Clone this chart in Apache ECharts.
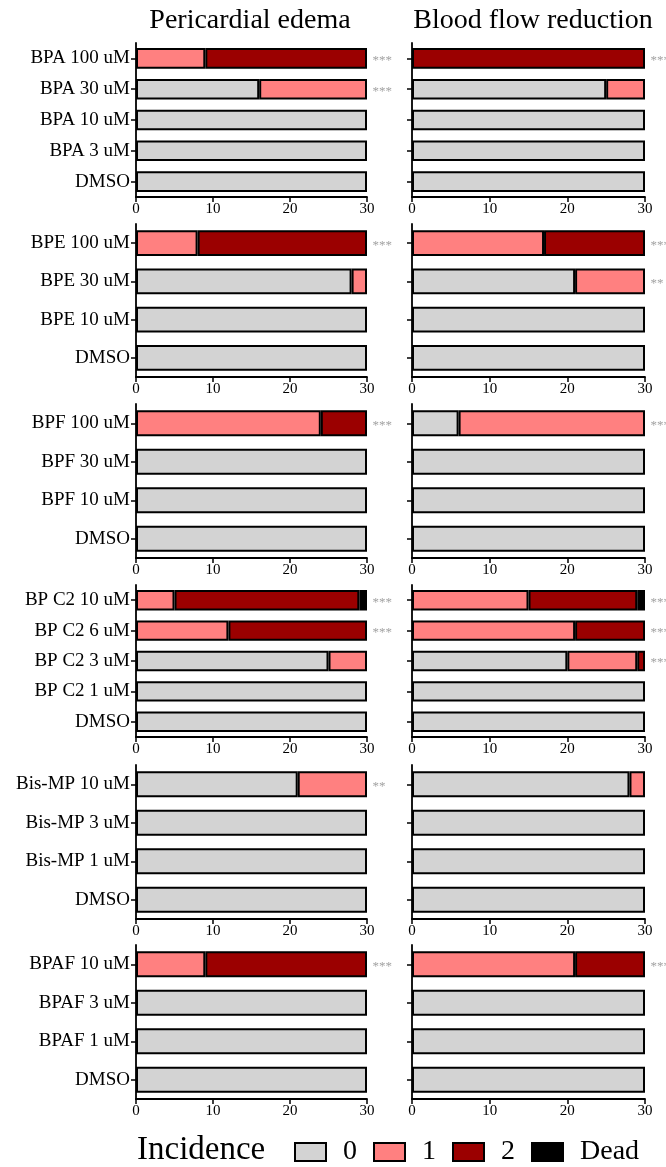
<!DOCTYPE html>
<html>
<head>
<meta charset="utf-8">
<script src="https://cdn.jsdelivr.net/npm/echarts@6/dist/echarts.min.js"></script>
<style>
html,body{margin:0;padding:0;background:#fff;}
#chart{width:666px;height:1167px;}
</style>
</head>
<body>
<div id="chart"></div>
<script>
// ---------- data ----------
const levelNames = ['0', '1', '2', 'Dead'];
const panelTitles = ['Pericardial edema', 'Blood flow reduction'];
const xTicks = [0, 10, 20, 30];

const catsBPA = ['BPA 100 uM', 'BPA 30 uM', 'BPA 10 uM', 'BPA 3 uM', 'DMSO'];
const catsBPE = ['BPE 100 uM', 'BPE 30 uM', 'BPE 10 uM', 'DMSO'];
const catsBPF = ['BPF 100 uM', 'BPF 30 uM', 'BPF 10 uM', 'DMSO'];
const catsBPC2 = ['BP C2 10 uM', 'BP C2 6 uM', 'BP C2 3 uM', 'BP C2 1 uM', 'DMSO'];
const catsBisMP = ['Bis-MP 10 uM', 'Bis-MP 3 uM', 'Bis-MP 1 uM', 'DMSO'];
const catsBPAF = ['BPAF 10 uM', 'BPAF 3 uM', 'BPAF 1 uM', 'DMSO'];

// rows: [count 0, count 1, count 2, dead]
const edemaBPA = [[0, 9, 21, 0], [16, 14, 0, 0], [30, 0, 0, 0], [30, 0, 0, 0], [30, 0, 0, 0]];
const flowBPA = [[0, 0, 30, 0], [25, 5, 0, 0], [30, 0, 0, 0], [30, 0, 0, 0], [30, 0, 0, 0]];
const edemaBPE = [[0, 8, 22, 0], [28, 2, 0, 0], [30, 0, 0, 0], [30, 0, 0, 0]];
const flowBPE = [[0, 17, 13, 0], [21, 9, 0, 0], [30, 0, 0, 0], [30, 0, 0, 0]];
const edemaBPF = [[0, 24, 6, 0], [30, 0, 0, 0], [30, 0, 0, 0], [30, 0, 0, 0]];
const flowBPF = [[6, 24, 0, 0], [30, 0, 0, 0], [30, 0, 0, 0], [30, 0, 0, 0]];
const edemaBPC2 = [[0, 5, 24, 1], [0, 12, 18, 0], [25, 5, 0, 0], [30, 0, 0, 0], [30, 0, 0, 0]];
const flowBPC2 = [[0, 15, 14, 1], [0, 21, 9, 0], [20, 9, 1, 0], [30, 0, 0, 0], [30, 0, 0, 0]];
const edemaBisMP = [[21, 9, 0, 0], [30, 0, 0, 0], [30, 0, 0, 0], [30, 0, 0, 0]];
const flowBisMP = [[28, 2, 0, 0], [30, 0, 0, 0], [30, 0, 0, 0], [30, 0, 0, 0]];
const edemaBPAF = [[0, 9, 21, 0], [30, 0, 0, 0], [30, 0, 0, 0], [30, 0, 0, 0]];
const flowBPAF = [[0, 21, 9, 0], [30, 0, 0, 0], [30, 0, 0, 0], [30, 0, 0, 0]];

const starsEdemaBPA = ['***', '***', '', '', ''];
const starsFlowBPA = ['***', '', '', '', ''];
const starsEdemaBPE = ['***', '', '', ''];
const starsFlowBPE = ['***', '**', '', ''];
const starsEdemaBPF = ['***', '', '', ''];
const starsFlowBPF = ['***', '', '', ''];
const starsEdemaBPC2 = ['***', '***', '', '', ''];
const starsFlowBPC2 = ['***', '***', '***', '', ''];
const starsEdemaBisMP = ['**', '', '', ''];
const starsFlowBisMP = ['', '', '', ''];
const starsEdemaBPAF = ['***', '', '', ''];
const starsFlowBPAF = ['***', '', '', ''];

// ---------- layout / style ----------
const FONT = '"Liberation Serif", "Times New Roman", serif';
const colors = ['#d3d3d3', '#ff8080', '#9b0000', '#000000'];
const colLeft = [136, 412];
const colWidth = [231, 233];
const rowTop = [43, 224, 404, 585, 765, 945];
const rowHeight = [154, 153, 154, 152, 154, 154];

const rowsDef = [
  [catsBPA, edemaBPA, flowBPA, starsEdemaBPA, starsFlowBPA],
  [catsBPE, edemaBPE, flowBPE, starsEdemaBPE, starsFlowBPE],
  [catsBPF, edemaBPF, flowBPF, starsEdemaBPF, starsFlowBPF],
  [catsBPC2, edemaBPC2, flowBPC2, starsEdemaBPC2, starsFlowBPC2],
  [catsBisMP, edemaBisMP, flowBisMP, starsEdemaBisMP, starsFlowBisMP],
  [catsBPAF, edemaBPAF, flowBPAF, starsEdemaBPAF, starsFlowBPAF]
];

const grid = [], xAxis = [], yAxis = [], series = [];
let idx = 0;
rowsDef.forEach((row, r) => {
  const cats = row[0];
  for (let c = 0; c < 2; c++) {
    const data = row[1 + c];
    const stars = row[3 + c];
    grid.push({left: colLeft[c], width: colWidth[c], top: rowTop[r], height: rowHeight[r]});
    xAxis.push({
      type: 'value', gridIndex: idx, min: xTicks[0], max: xTicks[xTicks.length - 1], interval: 10,
      axisLine: {show: true, lineStyle: {color: '#000', width: 1.8}},
      axisTick: {show: true, length: 5, lineStyle: {color: '#000', width: 1.5}},
      splitLine: {show: false},
      axisLabel: {color: '#000', fontFamily: FONT, fontSize: 15, margin: 5}
    });
    yAxis.push({
      type: 'category', gridIndex: idx, data: cats, inverse: true,
      axisLine: {show: true, lineStyle: {color: '#000', width: 1.8}},
      axisTick: {show: true, length: 5, alignWithLabel: true, lineStyle: {color: '#000', width: 1.5}},
      axisLabel: {show: c === 0, color: '#000', fontFamily: FONT, fontSize: 19, margin: 6}
    });
    for (let k = 0; k < 4; k++) {
      series.push({
        type: 'bar', name: levelNames[k], xAxisIndex: idx, yAxisIndex: idx, stack: 's' + idx,
        barCategoryGap: '33%', silent: true,
        itemStyle: {color: colors[k], borderColor: '#000', borderWidth: 2},
        data: data.map(d => d[k] === 0 ? '-' : d[k])
      });
    }
    series.push({
      type: 'scatter', xAxisIndex: idx, yAxisIndex: idx, silent: true,
      symbol: 'circle', symbolSize: 1, itemStyle: {color: 'rgba(0,0,0,0)'},
      label: {show: true, position: 'right', distance: 5, offset: [0, 2],
        formatter: p => p.value[2], color: '#8a8a8a', fontFamily: FONT, fontSize: 13},
      data: stars.map((s, i) => [30, i, s]).filter(d => d[2] !== '')
    });
    idx++;
  }
});

const chart = echarts.init(document.getElementById('chart'), null, {renderer: 'canvas'});
chart.setOption({
  backgroundColor: '#fff',
  animation: false,
  grid, xAxis, yAxis, series,
  legend: {
    data: levelNames, left: 289, top: 1133, icon: 'rect',
    itemWidth: 31, itemHeight: 18, itemGap: 16,
    itemStyle: {borderColor: '#000', borderWidth: 2},
    textStyle: {color: '#000', fontFamily: FONT, fontSize: 28, padding: [0, 0, 0, 12]},
    selectedMode: false
  },
  graphic: [
    {type: 'text', x: 250, y: 21, style: {text: panelTitles[0], font: '28px ' + FONT, fill: '#000', textAlign: 'center', textVerticalAlign: 'middle'}},
    {type: 'text', x: 533, y: 21, style: {text: panelTitles[1], font: '28px ' + FONT, fill: '#000', textAlign: 'center', textVerticalAlign: 'middle'}},
    {type: 'text', x: 137, y: 1150, style: {text: 'Incidence', font: '33px ' + FONT, fill: '#000', textAlign: 'left', textVerticalAlign: 'middle'}}
  ]
});
</script>
</body>
</html>
